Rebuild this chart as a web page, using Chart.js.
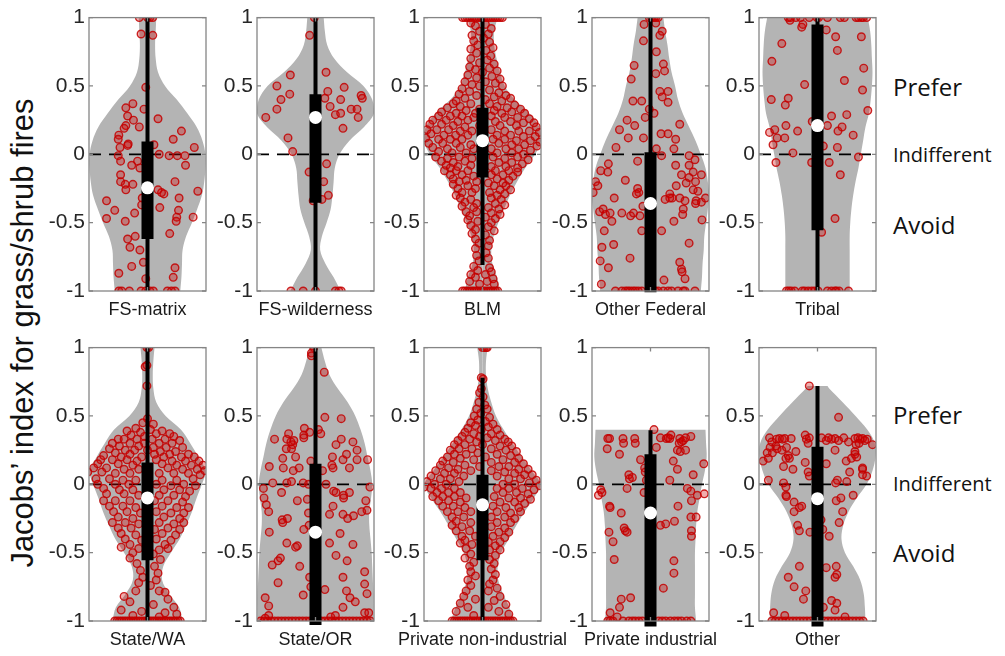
<!DOCTYPE html>
<html>
<head>
<meta charset="utf-8">
<script src="https://cdn.jsdelivr.net/npm/chart.js"></script>
<style>
  html, body { margin: 0; padding: 0; background: #fff; overflow: hidden; }
  body { width: 1005px; height: 656px; position: relative; }
  canvas { position: absolute; }
  .side { position: absolute; left: 893px; font-family: "Open Sans", sans-serif; color: #111; transform: translateY(-50%); white-space: nowrap; }
  .big { font-size: 24px; }
  .mid { font-size: 20px; }
  #ylabel { position: absolute; left: 23px; top: 333px; transform: translate(-50%, -50%) rotate(-90deg);
    font-family: "Liberation Sans", Arial, sans-serif; font-size: 31px; color: #111; white-space: nowrap; }
</style>
</head>
<body>
<div id="ylabel">Jacobs’ index for grass/shrub fires</div>
<div class="side big" style="top:86px">Prefer</div>
<div class="side mid" style="top:154px">Indifferent</div>
<div class="side big" style="top:224px">Avoid</div>
<div class="side big" style="top:414px">Prefer</div>
<div class="side mid" style="top:483px">Indifferent</div>
<div class="side big" style="top:552px">Avoid</div>
<script>
  // =============== Data ==================//
  const categories = ["FS-matrix", "FS-wilderness", "BLM", "Other Federal", "Tribal",
    "State/WA", "State/OR", "Private non-industrial", "Private industrial", "Other"];
  const yTicks = [-1, -0.5, 0, 0.5, 1];

  const medians = [-0.245, 0.27, 0.1, -0.36, 0.21, -0.1, -0.35, -0.15, -0.21, -0.105];
  const q1 = [-0.62, -0.355, -0.17, -1.01, -0.555, -0.555, -1.03, -0.555, -1.04, -1.04];
  const q3 = [0.094, 0.44, 0.34, 0.015, 0.95, 0.16, 0.15, 0.07, 0.22, 0.275];
  const whiskerLo = [-1, -1, -0.81, -1, -1, -1, -1, -1, -1, -1];
  const whiskerHi = [1, 1, 1, 1, 1, 1, 1, 0.78, 0.395, 0.72];

  // violin outlines: [value, half width]
  const violinFsMatrix = [[-1,0.56],[-0.9,0.58],[-0.8,0.59],[-0.7,0.6],[-0.6,0.66],[-0.5,0.76],[-0.4,0.85],[-0.3,0.93],[-0.2,0.97],[-0.1,0.99],[0,0.99],[0.1,0.94],[0.2,0.84],[0.3,0.68],[0.4,0.5],[0.5,0.3],[0.6,0.18],[0.7,0.14],[0.8,0.13],[0.9,0.14],[1,0.15]];
  const violinFsWild = [[-1,0.43],[-0.9,0.31],[-0.8,0.17],[-0.7,0.08],[-0.6,0.11],[-0.5,0.19],[-0.4,0.26],[-0.3,0.29],[-0.2,0.31],[-0.1,0.33],[0,0.41],[0.1,0.58],[0.2,0.83],[0.3,1],[0.4,0.97],[0.5,0.82],[0.6,0.54],[0.7,0.32],[0.8,0.2],[0.9,0.16],[1,0.14]];
  const violinBlm = [[-1,0.3],[-0.9,0.25],[-0.8,0.17],[-0.7,0.15],[-0.6,0.19],[-0.5,0.27],[-0.4,0.37],[-0.3,0.47],[-0.2,0.59],[-0.1,0.73],[0,0.9],[0.1,1],[0.2,0.97],[0.3,0.8],[0.4,0.55],[0.5,0.38],[0.6,0.3],[0.7,0.24],[0.8,0.2],[0.9,0.2],[1,0.26]];
  const violinOtherFed = [[-1,0.86],[-0.9,0.88],[-0.8,0.89],[-0.7,0.91],[-0.6,0.92],[-0.5,0.95],[-0.4,0.98],[-0.3,1],[-0.2,0.98],[-0.1,0.94],[0,0.86],[0.1,0.77],[0.2,0.66],[0.3,0.55],[0.4,0.47],[0.5,0.42],[0.6,0.36],[0.7,0.32],[0.8,0.29],[0.9,0.25],[1,0.22]];
  const violinTribal = [[-1,0.55],[-0.9,0.55],[-0.8,0.55],[-0.7,0.55],[-0.6,0.55],[-0.5,0.56],[-0.4,0.58],[-0.3,0.61],[-0.2,0.65],[-0.1,0.7],[0,0.74],[0.1,0.78],[0.2,0.82],[0.3,0.88],[0.4,0.91],[0.5,0.93],[0.6,0.94],[0.7,0.93],[0.8,0.92],[0.9,0.9],[1,0.86]];
  const violinStateWa = [[-1,0.6],[-0.9,0.54],[-0.8,0.37],[-0.7,0.25],[-0.6,0.27],[-0.5,0.4],[-0.4,0.55],[-0.3,0.66],[-0.2,0.76],[-0.1,0.84],[0,0.93],[0.1,0.99],[0.2,0.87],[0.3,0.73],[0.4,0.57],[0.5,0.31],[0.6,0.15],[0.7,0.1],[0.8,0.09],[0.9,0.1],[1,0.12]];
  const violinStateOr = [[-1,0.99],[-0.9,0.99],[-0.8,0.99],[-0.7,0.98],[-0.6,0.97],[-0.5,0.96],[-0.4,0.94],[-0.3,0.92],[-0.2,0.92],[-0.1,0.95],[0,0.97],[0.1,0.94],[0.2,0.89],[0.3,0.84],[0.4,0.77],[0.5,0.68],[0.6,0.55],[0.7,0.38],[0.8,0.24],[0.9,0.16],[1,0.1]];
  const violinPrivNonInd = [[-1,0.54],[-0.9,0.46],[-0.8,0.35],[-0.7,0.27],[-0.6,0.26],[-0.5,0.32],[-0.4,0.45],[-0.3,0.58],[-0.2,0.72],[-0.1,0.88],[0,0.99],[0.1,0.84],[0.2,0.67],[0.3,0.51],[0.4,0.36],[0.5,0.23],[0.6,0.15],[0.7,0.09],[0.8,0.06],[0.9,0.06],[1,0.09]];
  const violinPrivInd = [[-1,0.78],[-0.9,0.76],[-0.8,0.76],[-0.7,0.76],[-0.6,0.76],[-0.5,0.76],[-0.4,0.77],[-0.3,0.78],[-0.2,0.8],[-0.1,0.84],[0,0.88],[0.1,0.93],[0.2,0.96],[0.3,0.95],[0.4,0.94]];
  const violinOther = [[-1,0.82],[-0.9,0.81],[-0.8,0.79],[-0.7,0.73],[-0.6,0.61],[-0.5,0.47],[-0.4,0.41],[-0.3,0.44],[-0.2,0.53],[-0.1,0.67],[0,0.84],[0.1,0.94],[0.2,0.99],[0.3,0.98],[0.4,0.85],[0.5,0.65],[0.6,0.43],[0.7,0.2],[0.72,0.17]];

  // jittered points: [x offset, value]
  const pointsFsMatrix = [[-0.14,1],[0,1],[0.04,1],[0.09,1],[-0.11,0.88],[0.09,0.87],[-0.03,0.49],[-0.06,0.33],
    [-0.25,0.37],[-0.37,0.34],[-0.34,0.28],[-0.24,0.25],[-0.37,0.21],[-0.4,0.19],[-0.14,0.2],[0.18,0.26],[0.58,0.17],[0.44,0.11],[0.8,0.05],
    [-0.49,0.14],[-0.5,0.11],[-0.33,0.075],[-0.34,0.065],[-0.47,0.05],[-0.5,-0.01],[-0.46,-0.05],[-0.27,-0.08],[-0.17,-0.05],[-0.13,-0.1],
    [0.2,0],[0.37,-0.01],[0.51,-0.01],[0.64,-0.01],[0.65,-0.08],[0.47,-0.2],[0.86,-0.27],[0.54,-0.32],[0.53,-0.41],[0.5,-0.46],[0.49,-0.49],
    [0.78,-0.46],[0.38,-0.58],[0.28,-0.29],[0.24,-0.28],[0.18,-0.26],[0.21,-0.39],[0.11,0.07],[-0.46,-0.15],[-0.46,-0.2],[-0.38,-0.22],
    [-0.37,-0.26],[-0.25,-0.22],[-0.7,-0.34],[-0.56,-0.41],[-0.7,-0.47],[-0.38,-0.49],[-0.22,-0.43],[-0.09,-0.32],[-0.1,-0.37],[-0.34,-0.62],
    [-0.21,-0.6],[-0.3,-0.68],[-0.13,-0.7],[-0.07,-0.79],[-0.27,-0.82],[-0.49,-0.87],[-0.03,-0.91],[0.47,-0.83],[0.44,-0.9],
    [-0.49,-1],[-0.44,-1],[-0.31,-1],[-0.11,-1],[-0.03,-1],[0.04,-1],[0.1,-1],[0.34,-1],[0.41,-1],[0.47,-1]];
  const pointsFsWild = [[-0.02,1],[-0.1,0.87],[-0.43,0.58],[0.18,0.6],[-0.66,0.5],[-0.59,0.4],[-0.44,0.44],[-0.66,0.33],[-0.85,0.27],
    [0.16,0.41],[0.21,0.46],[0.25,0.35],[0.49,0.49],[0.43,0.4],[0.34,0.29],[0.43,0.3],[0.61,0.33],[0.71,0.33],[0.78,0.43],[0.8,0.41],
    [0.73,0.27],[0.47,0.19],[-0.47,0.12],[-0.39,0.02],[-0.11,-0.13],[0.19,-0.07],[0.14,-0.2],[0.22,-0.3],[0.11,-0.33],[-0.04,-0.34],
    [-0.42,-1],[-0.21,-1],[0,-1],[0.34,-1],[0.4,-1],[0.44,-1]];
  const pointsBlm = [[-0.34,1],[-0.3,1],[-0.26,1],[-0.22,1],[-0.18,1],[-0.14,1],[-0.1,1],[-0.06,1],[-0.02,1],[0.02,1],[0.06,1],[0.1,1],[0.14,1],[0.18,1],[0.22,1],[0.26,1],[0.3,1],[0.34,1],
    [-0.2,0.96],[-0.12,0.94],[0.05,0.95],[0.15,0.92],[-0.05,0.9],[0.1,0.88],[-0.18,0.87],[0.02,0.85],
    [-0.15,0.83],[0.12,0.82],[-0.08,0.8],[0.18,0.78],[-0.2,0.77],[0.06,0.76],[-0.1,0.74],[0.14,0.72],
    [-0.2,0.7],[0.08,0.69],[-0.05,0.67],[0.2,0.66],[-0.22,0.64],[0.12,0.63],[-0.12,0.62],[0.25,0.61],[0,0.6],
    [-0.25,0.58],[0.16,0.57],[-0.1,0.56],[0.3,0.55],[-0.3,0.53],[0.05,0.53],[0.22,0.52],[-0.18,0.51],[0.34,0.5],[-0.05,0.5],
    [-0.35,0.48],[0.12,0.47],[-0.22,0.46],[0.28,0.45],[-0.4,0.44],[0.4,0.43],[-0.1,0.43],[0.2,0.42],[-0.3,0.41],[0.48,0.41],[0.05,0.4],[-0.45,0.39],[0.33,0.39],
    [-0.5,0.37],[-0.2,0.37],[0.12,0.37],[0.55,0.36],[-0.38,0.35],[0.25,0.35],[-0.6,0.34],[0.42,0.34],[-0.05,0.33],[0.65,0.33],[-0.28,0.32],[0.2,0.32],[-0.7,0.31],[0.5,0.31],[-0.45,0.3],[0.33,0.3],[0.72,0.3],[-0.12,0.3],
    [-0.75,0.28],[-0.55,0.28],[-0.35,0.28],[-0.15,0.27],[0.15,0.28],[0.38,0.27],[0.6,0.27],[0.8,0.26],[-0.85,0.25],[-0.62,0.25],[-0.42,0.24],[-0.25,0.25],[0.22,0.24],[0.48,0.24],[0.7,0.23],[0.88,0.23],[-0.9,0.22],[-0.7,0.22],[-0.5,0.21],[-0.05,0.21],[0.3,0.21],[0.58,0.21],[0.92,0.2],[-0.3,0.2],
    [-0.95,0.18],[-0.78,0.18],[-0.58,0.18],[-0.38,0.17],[-0.18,0.17],[0.15,0.18],[0.38,0.17],[0.62,0.17],[0.8,0.17],[0.97,0.16],[-0.88,0.15],[-0.66,0.14],[-0.46,0.14],[-0.25,0.14],[0.25,0.14],[0.48,0.14],[0.7,0.13],[0.9,0.13],[-0.97,0.12],[-0.75,0.11],[-0.55,0.11],[-0.35,0.11],[0.18,0.11],[0.38,0.11],[0.58,0.1],[0.82,0.1],[0.98,0.09],
    [-0.92,0.08],[-0.68,0.08],[-0.45,0.08],[-0.2,0.07],[0.28,0.08],[0.5,0.07],[0.72,0.07],[0.93,0.06],[-0.85,0.05],[-0.6,0.04],[-0.38,0.05],[-0.15,0.04],[0.15,0.04],[0.4,0.04],[0.62,0.04],[0.82,0.03],[-0.75,0.02],[-0.52,0.01],[-0.28,0.01],[0.25,0.01],[0.5,0.01],[0.7,0],
    [-0.8,-0.02],[-0.6,-0.03],[-0.4,-0.02],[-0.18,-0.03],[0.18,-0.02],[0.38,-0.03],[0.6,-0.02],[0.78,-0.04],[-0.7,-0.05],[-0.5,-0.06],[-0.3,-0.05],[0.28,-0.06],[0.5,-0.06],[0.68,-0.07],[-0.62,-0.08],[-0.42,-0.09],[-0.2,-0.08],[0.15,-0.09],[0.4,-0.09],[0.6,-0.1],[-0.55,-0.1],
    [-0.65,-0.12],[-0.45,-0.12],[-0.25,-0.12],[0.22,-0.12],[0.45,-0.12],[0.6,-0.13],[-0.55,-0.15],[-0.35,-0.15],[-0.15,-0.16],[0.15,-0.15],[0.35,-0.15],[0.52,-0.16],[-0.5,-0.18],[-0.28,-0.19],[0.25,-0.18],[0.45,-0.19],[-0.4,-0.2],[-0.1,-0.2],[0.1,-0.21],[0.35,-0.21],
    [-0.5,-0.22],[-0.25,-0.23],[0.2,-0.23],[0.4,-0.23],[-0.42,-0.25],[-0.12,-0.25],[0.3,-0.26],[0.48,-0.26],[-0.35,-0.28],[-0.18,-0.28],[0.12,-0.28],[0.38,-0.29],[-0.45,-0.3],[0.25,-0.3],
    [-0.38,-0.32],[-0.2,-0.33],[0.15,-0.32],[0.32,-0.33],[-0.3,-0.35],[-0.1,-0.36],[0.22,-0.36],[0.38,-0.37],[-0.35,-0.38],[-0.15,-0.39],[0.1,-0.39],[0.28,-0.4],
    [-0.28,-0.42],[-0.1,-0.42],[0.15,-0.43],[0.3,-0.44],[-0.22,-0.45],[0.05,-0.46],[0.22,-0.47],[-0.25,-0.48],[-0.08,-0.49],[0.15,-0.5],
    [-0.2,-0.52],[0.1,-0.53],[-0.12,-0.55],[0.2,-0.56],[-0.18,-0.58],[0.05,-0.59],[-0.12,-0.62],[0.12,-0.63],[-0.06,-0.65],[0.1,-0.67],[-0.12,-0.69],
    [0.06,-0.72],[-0.1,-0.74],[0.1,-0.76],[-0.06,-0.78],[-0.15,-0.82],[0.12,-0.83],[-0.08,-0.85],[0.15,-0.86],[-0.2,-0.88],[0.05,-0.88],[-0.12,-0.9],[0.18,-0.91],[-0.22,-0.93],[0.08,-0.93],[-0.05,-0.95],[0.2,-0.95],
    [-0.34,-1],[-0.3,-1],[-0.26,-1],[-0.22,-1],[-0.18,-1],[-0.14,-1],[-0.1,-1],[-0.06,-1],[-0.02,-1],[0.02,-1],[0.06,-1],[0.1,-1],[0.14,-1],[0.18,-1],[0.22,-1],[0.26,-1]];
  const pointsOtherFed = [[-0.02,1],[0.02,1],[0.06,1],[0.09,1],[0.13,1],[-0.11,0.95],[0.09,0.96],[-0.12,0.83],[0.1,0.75],[0.16,0.87],[0.2,0.9],
    [0.22,0.66],[0.24,0.61],[0.09,0.59],[-0.28,0.65],[-0.33,0.55],[-0.3,0.39],[-0.15,0.39],[0.16,0.46],[0.2,0.42],[0.3,0.46],[0.3,0.38],
    [-0.02,0.33],[0.06,0.3],[-0.09,0.27],[-0.4,0.25],[-0.27,0.21],[-0.53,0.18],[-0.38,0.12],[-0.12,0.12],[0.18,0.15],[0.3,0.15],[0.5,0.22],
    [0.43,0.11],[-0.59,0.05],[0.1,0.04],[0.4,0.04],[0.19,-0.01],[0.66,-0.01],[0.76,-0.04],[0.43,-0.08],[0.66,-0.08],[-0.72,-0.07],[-0.85,-0.12],
    [-0.73,-0.13],[-0.94,-0.2],[-0.9,-0.23],[-0.98,-0.28],[-0.22,-0.05],[-0.43,-0.19],[-0.22,-0.25],[-0.2,-0.28],[-0.24,-0.29],[-0.02,-0.26],
    [0.53,-0.15],[0.66,-0.17],[0.73,-0.13],[0.87,-0.15],[0.61,-0.21],[0.77,-0.2],[0.73,-0.26],[0.81,-0.27],[0.44,-0.23],[0.33,-0.29],[0.37,-0.32],
    [0.5,-0.32],[0.59,-0.34],[0.56,-0.4],[0.78,-0.34],[0.87,-0.35],[0.94,-0.32],[0.77,-0.36],[0.55,-0.44],[0.4,-0.49],[0.88,-0.48],[-0.87,-0.42],
    [-0.81,-0.4],[-0.77,-0.44],[-0.69,-0.43],[-0.79,-0.56],[-0.66,-0.49],[-0.62,-0.32],[-0.49,-0.43],[-0.34,-0.45],[-0.29,-0.43],[-0.18,-0.45],
    [-0.15,-0.56],[-0.13,-0.38],[-0.83,-0.68],[-0.86,-0.78],[-0.72,-0.83],[-0.63,-0.66],[-0.35,-0.76],[-0.84,-0.95],[0.19,-0.56],[0.25,-0.33],
    [0.5,-0.79],[0.53,-0.84],[0.59,-0.91],[0.54,-0.86],[0.66,-0.65],[0.23,-0.92],[0.33,-0.32],
    [-0.6,-1],[-0.49,-1],[-0.43,-1],[-0.39,-1],[-0.35,-1],[-0.3,-1],[-0.26,-1],[-0.21,-1],[-0.15,-1],[-0.01,-1],[0.08,-1],[0.13,-1],[0.22,-1],
    [0.3,-1],[0.36,-1],[0.47,-1],[0.56,-1],[0.59,-1],[0.76,-1]];
  const pointsTribal = [[-0.5,1],[-0.46,1],[-0.37,1],[-0.29,1],[-0.14,1],[-0.01,1],[0.02,1],[0.17,1],[0.39,1],[0.46,1],[0.66,1],[0.7,1],[0.75,1],[0.78,1],[0.84,1],
    [-0.47,0.98],[-0.27,0.93],[-0.25,0.95],[0.15,0.91],[0.31,0.86],[0.75,0.86],[-0.61,0.81],[0.34,0.76],[-0.78,0.68],[0.79,0.63],[-0.22,0.51],
    [0.46,0.54],[0.77,0.47],[-0.79,0.4],[-0.5,0.41],[-0.55,0.36],[0.86,0.32],[0.24,0.28],[0.5,0.29],[-0.73,0.18],[-0.82,0.16],[-0.54,0.21],
    [-0.34,0.17],[-0.69,0.12],[-0.76,0.07],[-0.56,0.12],[0.35,0.17],[0.42,0.2],[0.17,0.21],[0.61,0.14],[0.34,0.05],[-0.42,0.01],[-0.71,-0.06],
    [-0.1,-0.06],[0.2,-0.06],[0.7,-0.02],[0.39,-0.15],[0.1,0.06],[0.3,-0.47],[0.07,-0.57],[-0.09,0.24],
    [-0.53,-1],[-0.49,-1],[-0.45,-1],[-0.39,-1],[-0.26,-1],[-0.22,-1],[-0.16,-1],[-0.1,-1],[-0.05,-1],[0.01,-1],[0.17,-1],[0.24,-1],[0.3,-1],[0.32,-1],[0.37,-1],[0.53,-1]];
  const pointsStateWa = [[-0.01,1],[0.02,1],[-0.01,0.87],[-0.04,0.86],[-0.01,0.72],
    [0,0.48],[-0.08,0.45],[0.1,0.44],[-0.2,0.41],[0.05,0.4],[-0.35,0.39],[0.25,0.39],[-0.12,0.38],[0.15,0.37],[0.38,0.37],[-0.28,0.36],[0.45,0.35],[-0.05,0.35],
    [-0.5,0.33],[-0.4,0.33],[-0.18,0.33],[0.08,0.33],[0.3,0.33],[0.55,0.32],[-0.6,0.3],[-0.3,0.3],[-0.05,0.3],[0.2,0.3],[0.42,0.3],[-0.48,0.28],[-0.15,0.28],[0.1,0.27],[0.32,0.27],[0.6,0.27],[-0.65,0.26],[-0.38,0.25],[-0.22,0.25],[0,0.25],[0.22,0.24],[0.48,0.24],[-0.55,0.23],[-0.3,0.22],[0.12,0.22],[0.38,0.22],[0.7,0.22],[-0.75,0.21],[-0.45,0.2],[-0.1,0.2],[0.28,0.2],[0.58,0.2],[0.8,0.2],
    [-0.8,0.18],[-0.6,0.18],[-0.35,0.18],[-0.18,0.17],[0.15,0.18],[0.42,0.17],[0.65,0.17],[0.88,0.17],[-0.85,0.15],[-0.5,0.15],[-0.25,0.14],[0.25,0.15],[0.5,0.14],[0.75,0.14],[0.95,0.14],[-0.92,0.12],[-0.7,0.12],[-0.4,0.11],[-0.15,0.11],[0.35,0.12],[0.6,0.11],[0.85,0.11],[0.98,0.1],[-0.78,0.09],[-0.55,0.08],[-0.3,0.08],[0.2,0.08],[0.45,0.08],[0.7,0.08],[0.9,0.07],[-1.02,0.09],
    [-0.88,0.04],[-0.65,0.04],[-0.42,0.03],[-0.2,0.03],[0.25,0.03],[0.5,0.03],[0.78,0.04],[-0.85,0],[-0.55,0],[-0.32,0],[0.15,0],[0.4,-0.01],[0.62,0],[0.82,-0.01],[-0.75,-0.03],[-0.48,-0.04],[-0.25,-0.04],[0.28,-0.04],[0.55,-0.04],[0.72,-0.05],[-0.7,-0.07],[-0.4,-0.07],[-0.15,-0.08],[0.2,-0.08],[0.45,-0.08],[0.65,-0.09],
    [-0.75,-0.12],[-0.55,-0.12],[-0.3,-0.12],[0.12,-0.12],[0.35,-0.12],[0.6,-0.13],[-0.65,-0.16],[-0.42,-0.16],[-0.2,-0.17],[0.25,-0.16],[0.5,-0.17],[0.7,-0.17],[-0.58,-0.2],[-0.35,-0.2],[-0.12,-0.21],[0.15,-0.2],[0.4,-0.21],[0.62,-0.21],[-0.5,-0.24],[-0.25,-0.25],[0.28,-0.24],[0.55,-0.25],[-0.6,-0.28],[-0.38,-0.28],[-0.15,-0.29],[0.2,-0.28],[0.45,-0.29],[0.62,-0.28],
    [-0.5,-0.32],[-0.28,-0.32],[0.12,-0.33],[0.35,-0.32],[0.55,-0.33],[-0.45,-0.36],[-0.2,-0.37],[0.25,-0.36],[0.48,-0.37],[-0.38,-0.4],[-0.1,-0.41],[0.15,-0.4],[0.4,-0.41],[-0.3,-0.44],[0.3,-0.44],[-0.45,-0.46],[-0.15,-0.47],[0.2,-0.48],[0.35,-0.47],[-0.25,-0.5],[0.1,-0.51],
    [-0.3,-0.54],[0.22,-0.55],[-0.18,-0.58],[0.12,-0.6],[-0.12,-0.63],[0.18,-0.65],[-0.08,-0.68],[0.15,-0.7],[-0.15,-0.72],[0.05,-0.74],[-0.2,-0.78],[0.2,-0.78],[0.3,-0.79],
    [-0.4,-0.82],[0.35,-0.84],[-0.3,-0.86],[0.1,-0.88],[0.45,-0.9],[-0.45,-0.92],[-0.1,-0.93],[0.3,-0.94],[0.5,-0.95],[-0.25,-0.96],[0.2,-0.97],
    [-0.56,-1],[-0.52,-1],[-0.48,-1],[-0.44,-1],[-0.4,-1],[-0.36,-1],[-0.32,-1],[-0.28,-1],[-0.24,-1],[-0.2,-1],[-0.16,-1],[-0.12,-1],[-0.08,-1],[-0.04,-1],[0,-1],
    [0.04,-1],[0.08,-1],[0.12,-1],[0.16,-1],[0.2,-1],[0.24,-1],[0.28,-1],[0.32,-1],[0.36,-1],[0.4,-1],[0.44,-1],[0.48,-1],[0.52,-1],[0.56,-1]];
  const pointsStateOr = [[-0.03,1],[-0.07,0.96],[-0.07,0.94],[0.15,0.82],[0.16,0.49],[0.44,0.48],[-0.7,0.33],[-0.46,0.37],[-0.49,0.33],[-0.42,0.31],
    [-0.37,0.32],[-0.39,0.29],[-0.5,0.26],[-0.41,0.26],[-0.19,0.41],[-0.2,0.36],[-0.2,0.34],[-0.1,0.38],[0.05,0.4],[0.09,0.37],[0.44,0.33],
    [0.35,0.29],[0.64,0.31],[0.53,0.22],[0.47,0.18],[0.71,0.25],[0.71,0.18],[0.89,0.18],[0.29,0.2],[-0.56,0.19],[-0.34,0.2],[-0.79,0.13],
    [-0.55,0.12],[-0.38,0.1],[-0.28,0.12],[-0.08,0.17],[0.12,0.1],[0.3,0.12],[0.28,0.14],[0.58,0.12],[-0.73,0.01],[-0.89,-0.03],[-0.88,-0.1],
    [-0.84,-0.15],[-0.8,-0.2],[-0.79,-0.35],[-0.49,0.01],[-0.41,0.02],[-0.58,-0.06],[-0.31,-0.12],[-0.21,0.01],[-0.12,0],[-0.14,-0.11],
    [-0.12,-0.21],[-0.57,-0.26],[-0.48,-0.25],[-0.56,-0.28],[0.18,0],[0.31,-0.05],[0.35,-0.06],[0.48,-0.08],[0.48,-0.1],[0.58,-0.06],
    [0.93,-0.02],[0.86,-0.12],[0.88,-0.19],[0.79,-0.2],[0.55,-0.25],[0.65,-0.23],[0.47,-0.22],[0.3,-0.16],[0.24,-0.22],[0.42,-0.36],
    [0.64,-0.44],[0.54,-0.56],[0.24,-0.43],[0.35,-0.52],[0.47,-0.68],[0.53,-0.78],[0.59,-0.83],[0.68,-0.86],[0.84,-0.64],[0.84,-0.73],
    [0.88,-0.8],[0.84,-0.94],[0.91,-0.94],[0.47,-0.9],[0.34,-0.96],[0.26,-0.97],[0.16,-0.77],[-0.11,-0.3],[-0.2,-0.33],[-0.27,-0.6],
    [-0.21,-0.81],[-0.49,-0.43],[-0.31,-0.45],[-0.34,-0.46],[-0.6,-0.54],[-0.64,-0.56],[-0.64,-0.72],[-0.74,-0.59],[-0.86,-0.83],
    [-0.8,-0.89],[-0.8,-0.96],[-0.86,-0.98],[-0.1,-0.68],[-0.08,-0.75],
    [-0.94,-1],[-0.88,-1],[-0.82,-1],[-0.76,-1],[-0.7,-1],[-0.64,-1],[-0.58,-1],[-0.52,-1],[-0.46,-1],[-0.4,-1],[-0.34,-1],[-0.28,-1],[-0.22,-1],[-0.16,-1],[-0.1,-1],
    [0.1,-1],[0.16,-1],[0.22,-1],[0.28,-1],[0.34,-1],[0.4,-1],[0.46,-1],[0.52,-1],[0.58,-1],[0.64,-1],[0.7,-1],[0.76,-1],[0.82,-1],[0.88,-1],[0.94,-1]];
  const pointsPrivNonInd = [[0,1],[0.03,1],[0.06,1],[0.08,1],[-0.02,0.78],[0.01,0.77],[-0.02,0.7],[-0.05,0.67],[0.01,0.64],[-0.06,0.6],[0.04,0.58],[-0.1,0.55],[0.08,0.55],[-0.03,0.52],[-0.14,0.5],[0.12,0.49],[-0.08,0.47],[0.05,0.46],[-0.2,0.45],[0.18,0.44],
    [-0.12,0.43],[0.1,0.42],[-0.25,0.41],[0.25,0.4],[-0.02,0.4],[-0.3,0.38],[-0.15,0.37],[0.15,0.37],[0.3,0.36],[-0.35,0.35],[-0.05,0.35],[0.08,0.34],[0.38,0.33],[-0.22,0.33],[-0.42,0.32],[0.22,0.32],[0.44,0.31],[-0.1,0.31],
    [-0.48,0.29],[-0.3,0.29],[0,0.29],[0.3,0.28],[0.5,0.28],[-0.4,0.26],[-0.18,0.26],[0.15,0.26],[0.4,0.25],[-0.55,0.25],[0.58,0.24],[-0.08,0.23],[-0.48,0.22],[-0.28,0.22],[0.25,0.22],[0.48,0.21],[-0.6,0.2],[0.05,0.2],[0.62,0.19],[-0.38,0.19],[0.35,0.18],[-0.15,0.18],[-0.68,0.17],[-0.5,0.16],[0.15,0.16],[0.55,0.16],[0.7,0.15],
    [-0.72,0.14],[-0.3,0.14],[-0.05,0.13],[0.28,0.13],[0.45,0.13],[-0.58,0.12],[-0.42,0.11],[0.62,0.11],[0.78,0.11],[-0.8,0.1],[-0.2,0.1],[0.15,0.1],[0.38,0.09],[-0.65,0.08],[-0.48,0.08],[0.55,0.08],[0.72,0.07],[0.85,0.07],[-0.88,0.06],[-0.32,0.06],[0.25,0.06],[-0.72,0.04],[-0.55,0.04],[0.45,0.04],[0.65,0.04],[0.92,0.03],[-0.95,0.02],[-0.4,0.02],[0.8,0.01],[-0.82,0],[-0.62,0],[0.35,0],[0.55,0],[0.98,-0.01],[-1,-0.02],
    [-0.88,-0.03],[-0.7,-0.03],[-0.48,-0.03],[0.25,-0.03],[0.45,-0.03],[0.68,-0.03],[0.88,-0.04],[-0.78,-0.06],[-0.58,-0.06],[-0.38,-0.06],[0.35,-0.06],[0.58,-0.06],[0.78,-0.07],[-0.85,-0.09],[-0.68,-0.09],[-0.48,-0.09],[-0.28,-0.1],[0.2,-0.09],[0.45,-0.1],[0.65,-0.1],[0.82,-0.11],[-0.75,-0.12],[-0.58,-0.12],[-0.38,-0.13],[0.3,-0.13],[0.55,-0.13],[0.72,-0.14],
    [-0.68,-0.16],[-0.5,-0.16],[-0.3,-0.17],[0.18,-0.16],[0.4,-0.17],[0.62,-0.17],[-0.6,-0.2],[-0.42,-0.2],[-0.2,-0.2],[0.25,-0.2],[0.48,-0.21],[0.65,-0.2],[-0.52,-0.24],[-0.32,-0.24],[0.15,-0.24],[0.38,-0.24],[0.55,-0.25],[-0.45,-0.27],[-0.2,-0.28],[0.25,-0.28],[0.48,-0.28],[-0.52,-0.3],
    [-0.35,-0.31],[0.15,-0.31],[0.38,-0.32],[-0.45,-0.34],[-0.22,-0.34],[0.28,-0.35],[0.45,-0.35],[-0.35,-0.38],[-0.12,-0.38],[0.18,-0.38],[0.38,-0.39],[-0.3,-0.41],[0.1,-0.42],[0.3,-0.42],[-0.38,-0.43],[-0.18,-0.44],[0.22,-0.45],
    [-0.28,-0.47],[0.12,-0.48],[0.3,-0.48],[-0.2,-0.51],[0.22,-0.52],[-0.3,-0.54],[0.12,-0.55],[-0.15,-0.57],[0.2,-0.58],[-0.22,-0.6],
    [0.15,-0.62],[-0.2,-0.64],[0.22,-0.66],[-0.12,-0.67],[-0.25,-0.7],[0.18,-0.7],[0.12,-0.73],[-0.2,-0.74],[0.25,-0.76],[-0.28,-0.78],[0.1,-0.78],
    [-0.32,-0.82],[0.3,-0.82],[-0.12,-0.84],[0.2,-0.85],[-0.38,-0.87],[0.4,-0.88],[-0.25,-0.9],[0.1,-0.9],[-0.45,-0.93],[0.28,-0.93],[0.45,-0.95],[-0.15,-0.96],
    [-0.52,-1],[-0.48,-1],[-0.44,-1],[-0.4,-1],[-0.36,-1],[-0.32,-1],[-0.28,-1],[-0.24,-1],[-0.2,-1],[-0.16,-1],[-0.12,-1],[-0.08,-1],[-0.04,-1],[0,-1],
    [0.04,-1],[0.08,-1],[0.12,-1],[0.16,-1],[0.2,-1],[0.24,-1],[0.28,-1],[0.32,-1],[0.36,-1],[0.4,-1],[0.44,-1],[0.48,-1],[0.52,-1]];
  const pointsPrivInd = [[0.06,0.4],[-0.73,0.335],[-0.7,0.335],[-0.74,0.26],[-0.47,0.335],[-0.46,0.3],[-0.27,0.335],[-0.26,0.3],[-0.53,0.22],
    [-0.17,0.18],[-0.37,0.07],[-0.36,0.04],[-0.4,-0.03],[-0.31,0.05],[-0.1,0.12],[-0.09,0.09],[-0.07,0.03],[-0.11,-0.06],[0.1,0.27],[0.17,0.34],
    [0.27,0.335],[0.3,0.34],[0.33,0.335],[0.35,0.36],[0.5,0.335],[0.49,0.3],[0.53,0.31],[0.56,0.32],[0.6,0.34],[0.69,0.35],[0.46,0.25],
    [0.51,0.24],[0.6,0.25],[0.39,0.17],[0.46,0.11],[0.91,0.15],[0.33,0.03],[0.73,0.07],[0.63,-0.03],[0.69,-0.05],[0.8,-0.08],[0.92,-0.07],
    [0.7,-0.12],[0.69,-0.24],[0.78,-0.24],[0.7,-0.34],[0.7,-0.38],[0.41,-0.27],[0.26,-0.29],[0.17,-0.3],[0.47,-0.16],[0.4,-0.56],[0.4,-0.65],
    [0.22,-0.76],[-0.85,-0.04],[-0.89,-0.08],[-0.83,-0.06],[-0.7,-0.16],[-0.69,-0.17],[-0.71,-0.35],[-0.64,-0.42],[-0.62,-0.55],[-0.5,-0.21],
    [-0.45,-0.32],[-0.43,-0.34],[-0.4,-0.35],[-0.34,-0.83],[-0.5,-0.84],[-0.53,-0.9],[-0.69,-0.94],[-0.57,-0.97],
    [-0.73,-1],[-0.69,-1],[-0.64,-1],[-0.47,-1],[-0.37,-1],[-0.31,-1],[-0.26,-1],[-0.2,-1],[-0.14,-1],[0.14,-1],[0.2,-1],[0.26,-1],[0.34,-1],
    [0.41,-1],[0.47,-1],[0.53,-1],[0.62,-1],[0.69,-1]];
  const pointsOther = [[-0.14,0.72],[0.36,0.49],[-0.82,0.34],[-0.78,0.31],[-0.7,0.33],[-0.65,0.335],[-0.6,0.33],[-0.56,0.335],[-0.45,0.335],
    [-0.19,0.33],[-0.14,0.34],[-0.16,0.3],[-0.21,0.36],[0.07,0.34],[0.15,0.32],[0.19,0.34],[0.24,0.33],[0.3,0.335],[0.36,0.32],[0.45,0.34],
    [0.53,0.31],[0.64,0.335],[0.69,0.34],[0.73,0.33],[0.77,0.335],[0.81,0.32],[0.85,0.33],[0.94,0.29],[0.66,0.29],[0.71,0.3],[-0.81,0.27],
    [-0.86,0.23],[-0.93,0.17],[-0.84,0.19],[-0.77,0.23],[-0.71,0.28],[-0.69,0.26],[-0.61,0.25],[-0.53,0.27],[-0.54,0.19],[-0.5,0.21],
    [-0.48,0.19],[-0.37,0.24],[-0.58,0.13],[-0.42,0.11],[-0.21,0.16],[-0.16,0.09],[-0.14,0.06],[-0.84,0.03],[-0.58,0.01],[-0.54,-0.02],
    [-0.54,-0.08],[-0.53,-0.09],[-0.4,-0.13],[-0.31,-0.17],[-0.27,-0.16],[-0.4,-0.2],[-0.34,-0.3],[-0.31,-0.34],[-0.13,-0.35],[0.15,0.15],
    [0.3,0.25],[0.34,0.03],[0.31,0.01],[0.49,0.17],[0.55,0.09],[0.5,0.02],[0.61,-0.08],[0.58,0.19],[0.64,0.22],[0.67,0.2],[0.64,0.24],
    [0.77,0.12],[0.77,0.11],[0.77,0.07],[0.84,0.06],[0.32,-0.12],[0.4,-0.1],[0.43,-0.2],[0.37,-0.28],[0.2,-0.38],[0.15,-0.61],[0.32,-0.6],
    [0.3,-0.68],[0.33,-0.66],[0.06,-0.26],[0.09,-0.33],[-0.31,-0.6],[-0.5,-0.68],[-0.4,-0.75],[-0.2,-0.78],[-0.24,-0.84],[0.24,-0.85],
    [0.33,-0.87],[0.3,-0.92],[0.1,-0.9],[-0.75,-0.94],[-0.56,-0.96],[0.47,-0.97],
    [-0.78,-1],[-0.72,-1],[-0.66,-1],[-0.6,-1],[-0.54,-1],[-0.48,-1],[-0.42,-1],[-0.36,-1],[-0.3,-1],[-0.24,-1],[-0.18,-1],[-0.12,-1],
    [0.12,-1],[0.18,-1],[0.24,-1],[0.3,-1],[0.36,-1],[0.42,-1],[0.48,-1],[0.54,-1],[0.6,-1],[0.66,-1],[0.72,-1],[0.78,-1]];

  const violins = [violinFsMatrix, violinFsWild, violinBlm, violinOtherFed, violinTribal,
    violinStateWa, violinStateOr, violinPrivNonInd, violinPrivInd, violinOther];
  const pointSets = [pointsFsMatrix, pointsFsWild, pointsBlm, pointsOtherFed, pointsTribal,
    pointsStateWa, pointsStateOr, pointsPrivNonInd, pointsPrivInd, pointsOther];

  // =============== Layout ==================//
  const plotLefts = [89, 257, 424, 592, 759];
  const plotTops = [15, 345];
  const AXIS_W = 60;
  const PAD_TOP = 14;

  Chart.defaults.font.family = '"Liberation Sans", Arial, sans-serif';
  Chart.defaults.color = "#262626";

  const violinGray = "#b4b4b4";

  // axes box with inward ticks, like the original figure
  const frame = {
    id: "frame",
    afterDatasetsDraw(chart) {
      const { ctx, chartArea: a } = chart;
      const x = chart.scales.x;
      const y = chart.scales.y;
      ctx.save();
      ctx.strokeStyle = "#858585";
      ctx.lineWidth = 1.3;
      ctx.strokeRect(a.left, a.top, a.right - a.left, a.bottom - a.top);
      ctx.beginPath();
      yTicks.forEach(function (v) {
        const py = y.getPixelForValue(v);
        ctx.moveTo(a.left, py);
        ctx.lineTo(a.left + 4, py);
        ctx.moveTo(a.right, py);
        ctx.lineTo(a.right - 4, py);
      });
      const px = x.getPixelForValue(0);
      ctx.moveTo(px, a.top);
      ctx.lineTo(px, a.top + 4);
      ctx.moveTo(px, a.bottom);
      ctx.lineTo(px, a.bottom - 4);
      ctx.stroke();
      ctx.restore();
    },
  };

  function side(pairs, sign) {
    return pairs.map(function (p) {
      return { x: sign * p[1], y: p[0] };
    });
  }

  categories.forEach(function (cat, i) {
    const row = Math.floor(i / 5);
    const col = i % 5;
    const canvas = document.createElement("canvas");
    canvas.width = AXIS_W * 2 + 117;
    canvas.height = PAD_TOP + 276 + 34;
    canvas.style.left = plotLefts[col] - AXIS_W + "px";
    canvas.style.top = plotTops[row] - PAD_TOP + "px";
    document.body.appendChild(canvas);

    new Chart(canvas, {
      type: "scatter",
      plugins: [frame],
      data: {
        datasets: [
          {
            label: "median",
            data: [{ x: 0, y: medians[i] }],
            pointRadius: 6.5,
            pointBackgroundColor: "#ffffff",
            pointBorderWidth: 0,
            order: 1,
          },
          {
            type: "line",
            label: "iqr",
            data: [{ x: 0, y: q1[i] }, { x: 0, y: q3[i] }],
            borderColor: "#000",
            borderWidth: 12,
            borderCapStyle: "butt",
            pointRadius: 0,
            clip: false,
            order: 2,
          },
          {
            type: "line",
            label: "whisker",
            data: [{ x: 0, y: whiskerLo[i] }, { x: 0, y: whiskerHi[i] }],
            borderColor: "#000",
            borderWidth: 4,
            borderCapStyle: "butt",
            pointRadius: 0,
            clip: false,
            order: 3,
          },
          {
            label: "points",
            data: pointSets[i].map(function (p) {
              return { x: p[0], y: p[1] };
            }),
            pointRadius: 3.8,
            pointBorderWidth: 1.4,
            pointBorderColor: "rgba(195, 0, 0, 0.85)",
            pointBackgroundColor: "rgba(210, 0, 0, 0.32)",
            order: 4,
          },
          {
            type: "line",
            label: "zero",
            data: [{ x: -1, y: 0 }, { x: 1, y: 0 }],
            borderColor: "#000",
            borderWidth: 1.8,
            borderDash: [12, 8],
            pointRadius: 0,
            order: 5,
          },
          {
            type: "line",
            label: "violin left",
            indexAxis: "y",
            data: side(violins[i], -1),
            fill: "origin",
            backgroundColor: violinGray,
            borderWidth: 0,
            borderColor: "rgba(0,0,0,0)",
            pointRadius: 0,
            tension: 0.35,
            order: 6,
          },
          {
            type: "line",
            label: "violin right",
            indexAxis: "y",
            data: side(violins[i], 1),
            fill: "origin",
            backgroundColor: violinGray,
            borderWidth: 0,
            borderColor: "rgba(0,0,0,0)",
            pointRadius: 0,
            tension: 0.35,
            order: 7,
          },
        ],
      },
      options: {
        responsive: false,
        animation: false,
        events: [],
        layout: { padding: { top: PAD_TOP, left: 0, right: 0, bottom: 0 } },
        scales: {
          x: { type: "linear", display: false, min: -1, max: 1 },
          y: {
            type: "linear",
            min: -1,
            max: 1,
            grid: { display: false, drawTicks: false },
            border: { display: false },
            afterBuildTicks: function (scale) {
              scale.ticks = yTicks.map(function (v) {
                return { value: v };
              });
            },
            afterFit: function (scale) {
              scale.width = AXIS_W;
            },
            ticks: {
              padding: 4,
              color: "#262626",
              font: { size: 21 },
              callback: function (v) {
                return String(v);
              },
            },
          },
          y2: {
            type: "linear",
            position: "right",
            grid: { display: false, drawTicks: false },
            border: { display: false },
            ticks: { display: false },
            afterFit: function (scale) {
              scale.width = AXIS_W;
            },
          },
        },
        plugins: {
          legend: { display: false },
          tooltip: { enabled: false },
          title: {
            display: true,
            position: "bottom",
            text: cat,
            color: "#1a1a1a",
            font: { size: 18, weight: "normal", lineHeight: "22px" },
            padding: { top: 8, bottom: 4 },
          },
        },
      },
    });
  });
</script>
</body>
</html>
